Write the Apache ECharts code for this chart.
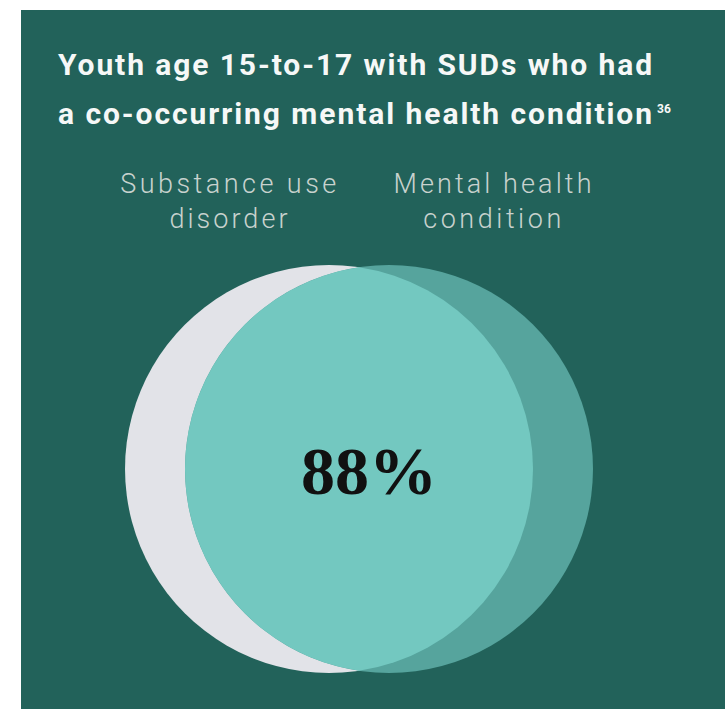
<!DOCTYPE html>
<html>
<head>
<meta charset="utf-8">
<script src="https://cdn.jsdelivr.net/npm/echarts@6/dist/echarts.min.js"></script>
<style>
html,body{margin:0;padding:0;background:#ffffff;}
#chart{width:725px;height:709px;}
</style>
</head>
<body>
<div id="chart"></div>
<script>
// ---- data ----
const titleLines = ['Youth age 15-to-17 with SUDs who had', 'a co-occurring mental health condition'];
const titleNote = '36';
const setNames = ['Substance use\ndisorder', 'Mental health\ncondition'];
const setCenters = [-0.147, 0.147];   // circle centres, in circle-radius units
const setRadius = [1, 1];
const overlapPct = [88];

// ---- style ----
const circleColors = ['#e2e3e8', '#56a49d'];
const lensColor = '#73c8c0';
const panelColor = '#22625a';

const chart = echarts.init(document.getElementById('chart'), null, {renderer: 'svg'});

const graphics = [
  {type: 'rect', z: -10, shape: {x: 21, y: 10, width: 704, height: 699}, style: {fill: panelColor}},
  {type: 'text', z: 100, x: 58, y: 64, style: {text: titleLines[0], font: 'bold 30px Roboto', fill: '#f6f8f7', textAlign: 'left', textVerticalAlign: 'middle'}},
  {type: 'text', z: 100, x: 58, y: 113, style: {text: titleLines[1], font: 'bold 30px Roboto', fill: '#f6f8f7', textAlign: 'left', textVerticalAlign: 'middle'}},
  {type: 'text', z: 100, x: 657, y: 109, style: {text: titleNote, font: 'bold 12px Roboto', fill: '#f6f8f7', textAlign: 'left', textVerticalAlign: 'middle'}}
];
const subX = [230, 494];
setNames.forEach((n, i) => {
  n.split('\n').forEach((line, j) => {
    graphics.push({type: 'text', z: 100, x: subX[i], y: 184 + j * 35,
      style: {text: line, font: '300 27px Roboto', fill: '#c8d2ce', textAlign: 'center', textVerticalAlign: 'middle'}});
  });
});

const option = {
  backgroundColor: '#ffffff',
  animation: false,
  grid: {left: 53, top: 265, width: 612, height: 408},
  xAxis: {type: 'value', min: -1.5, max: 1.5, show: false},
  yAxis: {type: 'value', min: -1, max: 1, show: false},
  graphic: graphics,
  series: [
    {
      type: 'custom', coordinateSystem: 'cartesian2d', silent: true, z: 2,
      data: setCenters.map((c, i) => [c, 0, setRadius[i], i]),
      encode: {x: 0, y: 1},
      renderItem: function (params, api) {
        const p = api.coord([api.value(0), api.value(1)]);
        const r = api.size([api.value(2), api.value(2)])[0];
        return {type: 'circle', shape: {cx: p[0], cy: p[1], r: r}, style: {fill: circleColors[api.value(3)]}};
      }
    },
    {
      type: 'custom', coordinateSystem: 'cartesian2d', silent: true, z: 3,
      data: [[0, 0, overlapPct[0]]],
      encode: {x: 0, y: 1},
      renderItem: function (params, api) {
        const c1 = api.coord([setCenters[0], 0]);
        const c2 = api.coord([setCenters[1], 0]);
        const r1 = api.size([setRadius[0], setRadius[0]])[0];
        const r2 = api.size([setRadius[1], setRadius[1]])[0];
        const d = c2[0] - c1[0];
        const a = (d * d + r1 * r1 - r2 * r2) / (2 * d);
        const h = Math.sqrt(r1 * r1 - a * a);
        const px = c1[0] + a, y = c1[1];
        const path = 'M' + px + ' ' + (y - h) +
          ' A' + r1 + ' ' + r1 + ' 0 0 1 ' + px + ' ' + (y + h) +
          ' A' + r2 + ' ' + r2 + ' 0 0 1 ' + px + ' ' + (y - h) + ' Z';
        return {
          type: 'path',
          shape: {pathData: path},
          style: {fill: lensColor},
          textContent: {style: {text: api.value(2) + '%', font: 'bold 68px "Liberation Serif"', fill: '#111111'}},
          textConfig: {position: 'inside', offset: [10, 2]}
        };
      }
    }
  ]
};
chart.setOption(option);

// letter-spacing (tracking) for the sans text, matching the reference widths
const targetWidths = {};
targetWidths[titleLines[0]] = 594;
targetWidths[titleLines[1]] = 594;
targetWidths['Substance use'] = 216;
targetWidths['disorder'] = 118;
targetWidths['Mental health'] = 198;
targetWidths['condition'] = 138;
function applySpacing() {
  document.querySelectorAll('#chart text').forEach(el => {
    const t = el.textContent;
    if (targetWidths[t] && !el.getAttribute('data-sp')) {
      const len = el.getComputedTextLength();
      const ls = (targetWidths[t] - len) / (t.length - 1);
      el.setAttribute('letter-spacing', ls.toFixed(2));
      el.setAttribute('data-sp', '1');
    }
  });
}
chart.on('finished', applySpacing);
setTimeout(applySpacing, 200);
setTimeout(applySpacing, 800);
</script>
</body>
</html>
